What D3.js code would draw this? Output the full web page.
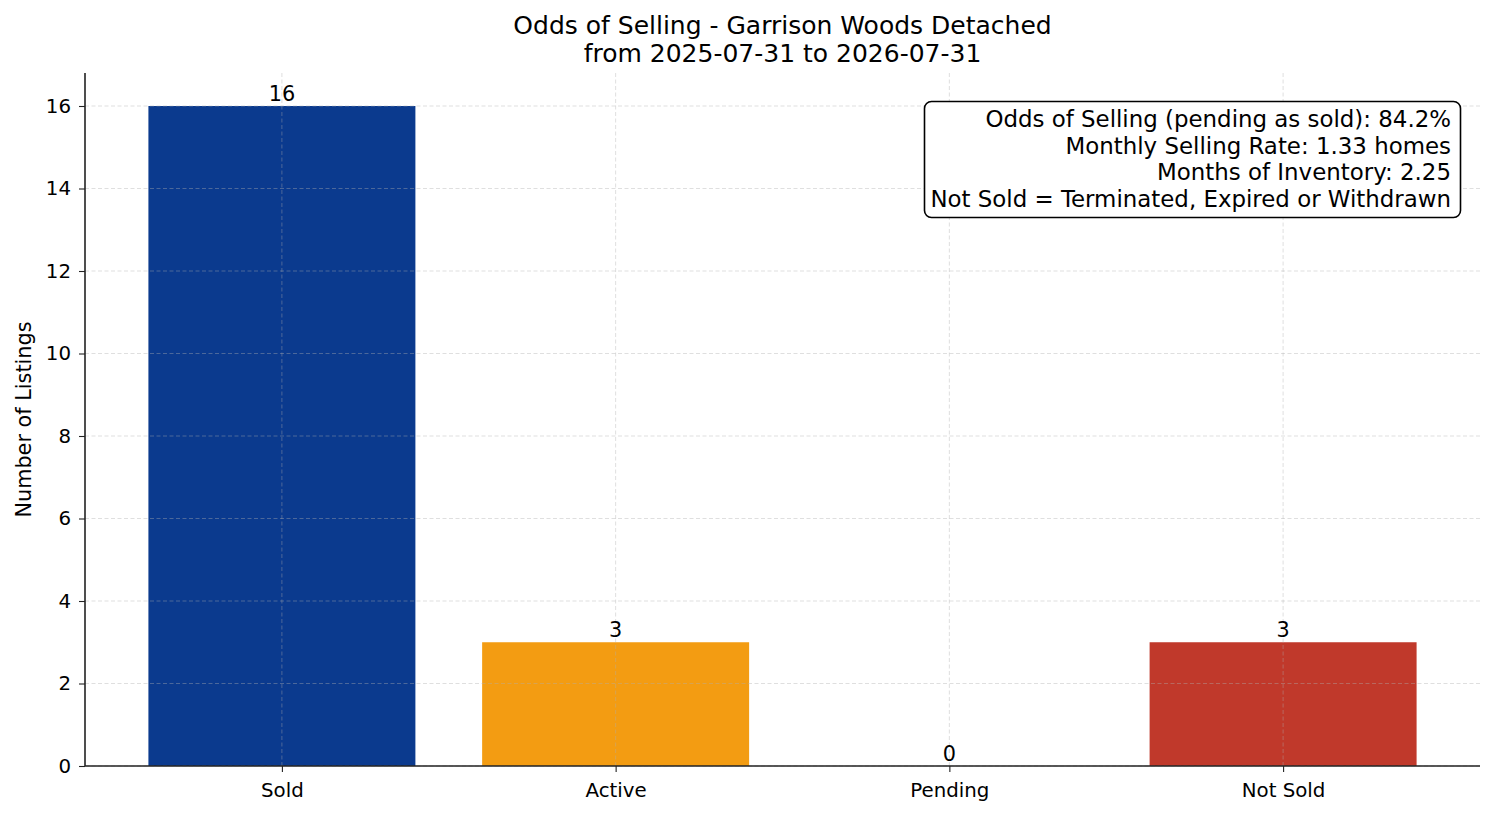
<!DOCTYPE html>
<html>
<head>
<meta charset="utf-8">
<script src="https://cdn.jsdelivr.net/npm/d3@7"></script>
<style>
  body { margin: 0; background: #fff; }
  svg { display: block; font-family: "DejaVu Sans", sans-serif; }
</style>
</head>
<body>
<div id="chart"></div>
<script>
var categories = ['Sold', 'Active', 'Pending', 'Not Sold']
var counts = [16, 3, 0, 3]
var bar_colors = ['#0b3a8e', '#f39c12', '#8e44ad', '#c0392b']
var y_ticks = [0, 2, 4, 6, 8, 10, 12, 14, 16]
var title_lines = ['Odds of Selling - Garrison Woods Detached', 'from 2025-07-31 to 2026-07-31']
var info_lines = [
  'Odds of Selling (pending as sold): 84.2%',
  'Monthly Selling Rate: 1.33 homes',
  'Months of Inventory: 2.25',
  'Not Sold = Terminated, Expired or Withdrawn'
]

var width = 1494
var height = 816
var m = { left: 85, right: 14, top: 73, bottom: 50 }

var svg = d3.select('#chart').append('svg')
  .attr('width', width)
  .attr('height', height)

// x like matplotlib: bar centres at 0..3, 5% margins
var x = d3.scaleLinear().domain([-0.59, 3.59]).range([m.left, width - m.right])
var y = d3.scaleLinear().domain([0, 16.8]).range([height - m.bottom, m.top])
var bar_w = 0.8

var g = svg.append('g')

// bars
g.selectAll('rect.bar')
  .data(counts)
  .enter().append('rect')
  .attr('class', 'bar')
  .attr('x', function (d, i) { return x(i - bar_w / 2) })
  .attr('width', function (d, i) { return x(i + bar_w / 2) - x(i - bar_w / 2) })
  .attr('y', function (d) { return y(d) })
  .attr('height', function (d) { return y(0) - y(d) })
  .attr('fill', function (d, i) { return bar_colors[i] })

// grid (drawn above bars)
var grid = g.append('g')
grid.selectAll('line.hg')
  .data(y_ticks)
  .enter().append('line')
  .attr('x1', x.range()[0]).attr('x2', x.range()[1])
  .attr('y1', function (d) { return y(d) }).attr('y2', function (d) { return y(d) })
grid.selectAll('line.vg')
  .data(categories)
  .enter().append('line')
  .attr('x1', function (d, i) { return x(i) }).attr('x2', function (d, i) { return x(i) })
  .attr('y1', y.range()[0]).attr('y2', y.range()[1])
grid.selectAll('line')
  .attr('stroke', '#b0b0b0')
  .attr('stroke-opacity', 0.5)
  .attr('stroke-width', 0.8)
  .attr('stroke-dasharray', '4,2.5')

// bar labels
g.selectAll('text.lbl')
  .data(counts)
  .enter().append('text')
  .attr('x', function (d, i) { return x(i) })
  .attr('y', function (d) { return y(d) - 5.5 })
  .attr('text-anchor', 'middle')
  .attr('font-size', '20.8px')
  .attr('fill', '#000')
  .text(function (d) { return d })

// axes
var yAxis = d3.axisLeft(y).tickValues(y_ticks).tickSize(6).tickPadding(8)
var ya = svg.append('g')
  .attr('transform', 'translate(' + m.left + ',0)')
  .call(yAxis)

var xAxis = d3.axisBottom(x).tickValues([0, 1, 2, 3])
  .tickFormat(function (d) { return categories[d] })
  .tickSize(6)
var xa = svg.append('g')
  .attr('transform', 'translate(0,' + (height - m.bottom) + ')')
  .call(xAxis)
xa.selectAll('.tick text').attr('y', 13).attr('dy', '0.93em')

ya.select('.domain').attr('d', 'M0,' + y.range()[1] + 'V' + y.range()[0])
xa.select('.domain').attr('d', 'M' + x.range()[0] + ',0H' + x.range()[1])
svg.selectAll('.domain').attr('stroke', '#222').attr('stroke-width', 1.6)
svg.selectAll('.tick line').attr('stroke', '#222').attr('stroke-width', 1.1)
svg.selectAll('.tick text')
  .attr('font-size', '19.8px')
  .attr('font-family', '"DejaVu Sans", sans-serif')
  .attr('fill', '#000')

// y label
svg.append('text')
  .attr('transform', 'translate(31,' + ((y.range()[0] + y.range()[1]) / 2) + ') rotate(-90)')
  .attr('text-anchor', 'middle')
  .attr('font-size', '20.8px')
  .text('Number of Listings')

// title
svg.selectAll('text.title')
  .data(title_lines)
  .enter().append('text')
  .attr('x', (x.range()[0] + x.range()[1]) / 2)
  .attr('y', function (d, i) { return 34 + i * 28 })
  .attr('text-anchor', 'middle')
  .attr('font-size', '25px')
  .text(function (d) { return d })

// info box
var box = svg.append('g')
box.append('rect')
  .attr('x', 924.5).attr('y', 101.5)
  .attr('width', 536).attr('height', 116)
  .attr('rx', 7).attr('ry', 7)
  .attr('fill', '#fff')
  .attr('stroke', '#000')
  .attr('stroke-width', 1.6)
box.selectAll('text')
  .data(info_lines)
  .enter().append('text')
  .attr('x', 1451)
  .attr('y', function (d, i) { return 127 + i * 26.6 })
  .attr('text-anchor', 'end')
  .attr('font-size', '22.9px')
  .text(function (d) { return d })
</script>
</body>
</html>
